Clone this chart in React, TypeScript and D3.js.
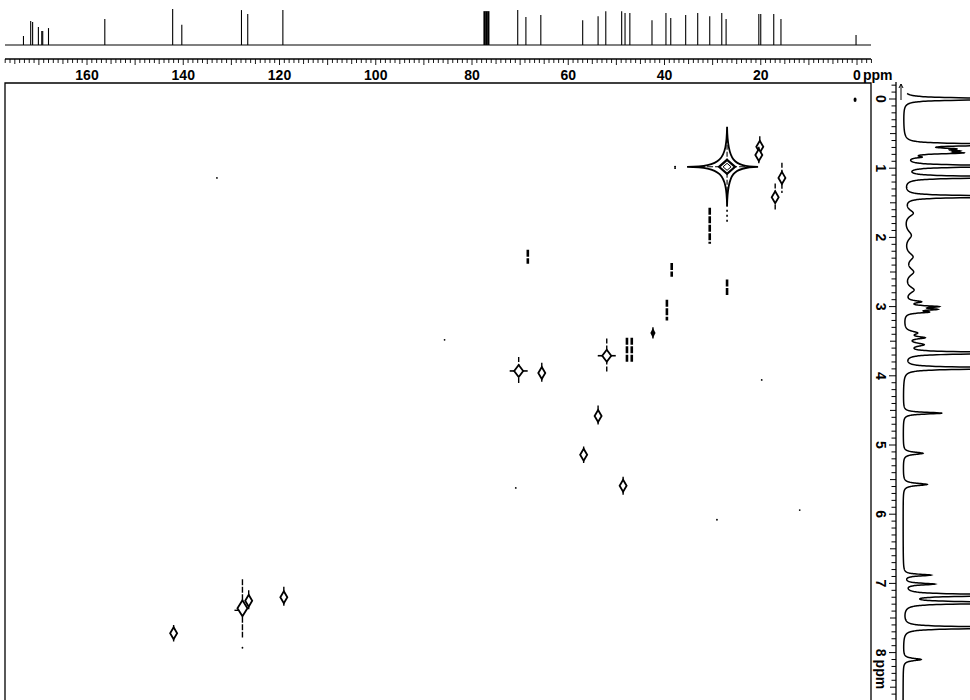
import React from 'react';
import * as d3 from 'd3';

// 13C projection: shift (ppm) and relative height
const carbonShift = [173.2, 171.7, 171.3, 170.1, 169.4, 169.2, 168.0, 156.3, 142.2, 140.3, 127.9, 126.6, 119.3, 77.4, 77.0, 76.6, 70.5, 68.8, 65.7, 57.0, 53.8, 52.2, 48.9, 48.2, 47.2, 42.6, 39.7, 38.7, 35.6, 33.1, 30.6, 28.1, 27.2, 20.4, 20.0, 17.3, 15.8, 0.2];
const carbonHeight = [25, 67, 64, 50, 39, 39, 47, 72, 100, 56, 97, 86, 97, 94, 94, 94, 97, 78, 83, 69, 80, 94, 94, 89, 89, 69, 89, 75, 83, 89, 80, 89, 72, 86, 86, 86, 72, 28];

// 1H projection: shift (ppm), height, half width (ppm)
const protonShift = [0.0, 0.66, 0.72, 0.75, 0.78, 0.84, 0.97, 1.13, 1.41, 1.65, 1.97, 2.28, 2.5, 2.76, 2.93, 3.0, 3.04, 3.08, 3.38, 3.45, 3.55, 3.67, 3.89, 4.54, 5.12, 5.57, 6.88, 7.01, 7.17, 7.28, 7.64, 8.1];
const protonHeight = [300, 300, 60, 60, 80, 20, 300, 300, 300, 15, 12, 14, 15, 16, 25, 50, 45, 35, 20, 30, 30, 300, 300, 65, 33, 40, 45, 50, 300, 300, 300, 30];
const protonWidth = [0.012, 0.012, 0.015, 0.015, 0.015, 0.015, 0.012, 0.012, 0.012, 0.06, 0.08, 0.07, 0.07, 0.06, 0.02, 0.015, 0.015, 0.015, 0.03, 0.02, 0.03, 0.012, 0.012, 0.015, 0.02, 0.02, 0.015, 0.015, 0.012, 0.012, 0.012, 0.02];

// HSQC cross peaks
const hsqcC = [0.4, 27.0, 20.2, 20.4, 15.6, 17.0, 30.6, 68.4, 38.5, 27.0, 39.5, 42.4, 47.8, 46.8, 52.0, 70.3, 65.5, 53.8, 56.8, 48.6, 142.0, 127.7, 126.4, 119.1];
const hsqcH = [0.01, 0.98, 0.69, 0.81, 1.14, 1.42, 1.83, 2.28, 2.47, 2.73, 3.05, 3.38, 3.63, 3.63, 3.71, 3.93, 3.96, 4.58, 5.14, 5.59, 7.72, 7.36, 7.25, 7.2];
const hsqcShape = ['dot', 'star', 'ring', 'ring', 'ring', 'ring', 'bar', 'bar', 'bar', 'bar', 'bar', 'spot', 'bar', 'bar', 'cross', 'cross', 'ring', 'ring', 'ring', 'ring', 'ring', 'big', 'ring', 'ring'];
const hsqcSpread = [0, 0.58, 0.15, 0.12, 0.22, 0.2, 0.26, 0.1, 0.1, 0.12, 0.15, 0.08, 0.18, 0.18, 0.25, 0.2, 0.15, 0.15, 0.12, 0.13, 0.12, 0.42, 0.15, 0.15];

// stray noise specks
const noiseC = [133, 85.7, 29.1, 19.8, 11.9, 70.9, 127.7, 37.8];
const noiseH = [1.14, 3.48, 6.08, 4.06, 5.94, 5.62, 7.93, 1.0];

const carbonTicks = [160, 140, 120, 100, 80, 60, 40, 20];
const protonTicks = [0, 1, 2, 3, 4, 5, 6, 7];

const font = '"Liberation Sans", Arial, sans-serif';

export default function App() {
  const x = d3.scaleLinear().domain([160, 0]).range([87, 857]);
  const y = d3.scaleLinear().domain([0, 8]).range([99, 652.6]);
  const pxPerH = y(1) - y(0);

  const left = 5, right = 871, top = 83, bottom = 705;

  // 1D carbon
  const cBase = 45;
  const cH = d3.scaleLinear().domain([0, 100]).range([0, 36]);

  // ruler ticks, 1 ppm apart
  const rulerTicks = d3.range(-3, 178, 1);

  // 1H trace
  const hBase = 903;
  const hW = d3.scaleLinear().domain([0, 100]).range([0, 60]);
  const hPts = d3.range(-0.08, 8.9, 0.002).map((p) => {
    let s = 0;
    protonShift.forEach((p0, i) => {
      const w = protonWidth[i];
      s += (protonHeight[i] * w * w) / ((p - p0) * (p - p0) + w * w);
    });
    return [Math.min(hBase + hW(s), 990), y(p)] as [number, number];
  });
  const hLine = d3.line()(hPts) || '';

  const hTicks = d3.range(-2, 89, 1).map((v) => v / 10);

  const ringPath = (hx: number, hy: number) =>
    `M0,${-hy}L${hx},0L0,${hy}L${-hx},0Z`;

  // thin four-armed contour of the strongest peak
  const star = (cx: number, cy: number) => {
    const L = 40, R = 31, T = 40, B = 39;
    return `M${cx - L},${cy}` +
      ` C${cx - 6},${cy - 0.6} ${cx - 0.6},${cy - 6} ${cx},${cy - T}` +
      ` C${cx + 0.6},${cy - 6} ${cx + 6},${cy - 0.6} ${cx + R},${cy}` +
      ` C${cx + 6},${cy + 0.6} ${cx + 0.6},${cy + 6} ${cx},${cy + B}` +
      ` C${cx - 0.6},${cy + 6} ${cx - 6},${cy + 0.6} ${cx - L},${cy} Z`;
  };

  return (
    <svg width={970} height={700} style={{ position: 'fixed', left: 0, top: 0, background: '#fff' }} fontFamily={font}>
      <rect width={970} height={700} fill="#fff" />

      {/* carbon projection */}
      <line x1={left} x2={right} y1={cBase} y2={cBase} stroke="#000" strokeWidth={1.2} />
      {carbonShift.map((s, i) => (
        <line key={'c' + i} x1={x(s)} x2={x(s)} y1={cBase} y2={cBase - cH(carbonHeight[i])} stroke="#000" strokeWidth={s > 76 && s < 78 ? 2.2 : 1.1} />
      ))}

      {/* ruler */}
      <line x1={left} x2={right} y1={59} y2={59} stroke="#000" strokeWidth={1.5} />
      {rulerTicks.map((t) => (
        <line key={'r' + t} x1={x(t)} x2={x(t)} y1={59} y2={t % 10 === 0 ? 65 : t % 5 === 0 ? 64 : 63} stroke="#000" strokeWidth={0.9} />
      ))}
      {carbonTicks.map((t) => (
        <text key={'cl' + t} x={x(t)} y={80} textAnchor="middle" fontSize={14} fontWeight="bold">{t}</text>
      ))}
      <text x={x(0)} y={80} textAnchor="middle" fontSize={14} fontWeight="bold">0</text>
      <text x={x(0) + 6} y={80} fontSize={14} fontWeight="bold">ppm</text>

      {/* frame */}
      <path d={`M${left},${bottom}V${top}H${right}V${bottom}`} fill="none" stroke="#000" strokeWidth={1.3} />

      {/* proton axis */}
      <line x1={896} x2={896} y1={82} y2={700} stroke="#000" strokeWidth={1.3} />
      {hTicks.map((t, i) => (
        <line key={'ht' + i} x1={Math.abs(t * 10) % 10 === 0 ? 889 : Math.abs(t * 10) % 5 === 0 ? 890 : 891.5} x2={896} y1={y(t)} y2={y(t)} stroke="#000" strokeWidth={1} />
      ))}
      {protonTicks.map((t) => (
        <text key={'hl' + t} transform={`translate(881,${y(t)}) rotate(90)`} textAnchor="middle" dominantBaseline="central" fontSize={14} fontWeight="bold">{t}</text>
      ))}
      <text transform={`translate(881,${y(8)}) rotate(90)`} textAnchor="middle" dominantBaseline="central" fontSize={14} fontWeight="bold">8</text>
      <text transform={`translate(881,${y(8) + 7}) rotate(90)`} dominantBaseline="central" fontSize={14} fontWeight="bold">ppm</text>
      <path d="M901,84V100M899,88L901,84L903,88" fill="none" stroke="#000" strokeWidth={1} />

      {/* proton projection */}
      <path d={hLine} fill="none" stroke="#000" strokeWidth={1.5} />

      {/* noise */}
      {noiseC.map((c, i) => (
        <circle key={'n' + i} cx={x(c)} cy={y(noiseH[i])} r={0.9} fill="#000" />
      ))}

      {/* cross peaks */}
      {hsqcC.map((c, i) => {
        const cx = x(c), cy = y(hsqcH[i]);
        const shape = hsqcShape[i];
        const sp = hsqcSpread[i] * pxPerH;
        if (shape === 'dot') {
          return <ellipse key={'p' + i} cx={cx} cy={cy} rx={1.5} ry={2.2} fill="#000" />;
        }
        if (shape === 'star') {
          return (
            <g key={'p' + i}>
              <line x1={cx} x2={cx} y1={cy + 38} y2={cy + 56} stroke="#000" strokeWidth={1.6} strokeDasharray="2,3" />
              <circle cx={cx - 52} cy={cy} r={1} fill="#000" />
              <path d={star(cx, cy)} fill="#fff" stroke="#000" strokeWidth={1.8} />
              <line x1={cx - 36} x2={cx + 27} y1={cy} y2={cy} stroke="#000" strokeWidth={1.1} strokeDasharray="6,2" />
              <line x1={cx} x2={cx} y1={cy - 36} y2={cy + 35} stroke="#000" strokeWidth={1.1} strokeDasharray="5,2" />
              <path transform={`translate(${cx},${cy})`} d={ringPath(8, 7)} fill="#fff" stroke="#000" strokeWidth={2.2} />
              <path transform={`translate(${cx},${cy})`} d={ringPath(4, 3.5)} fill="none" stroke="#000" strokeWidth={1} />
            </g>
          );
        }
        if (shape === 'bar') {
          return (
            <line key={'p' + i} x1={cx} x2={cx} y1={cy - sp} y2={cy + sp} stroke="#000" strokeWidth={2.6} strokeDasharray="7,1.5" />
          );
        }
        if (shape === 'spot') {
          return (
            <g key={'p' + i}>
              <line x1={cx} x2={cx} y1={cy - sp} y2={cy + sp} stroke="#000" strokeWidth={1.4} />
              <path transform={`translate(${cx},${cy})`} d={ringPath(2.6, 5)} fill="#000" />
            </g>
          );
        }
        const big = shape === 'big';
        const hx = big ? 5 : shape === 'cross' ? 4.5 : 3.5;
        const hy = big ? 8 : 6;
        return (
          <g key={'p' + i}>
            <line x1={cx} x2={cx} y1={cy - sp} y2={cy + sp} stroke="#000" strokeWidth={1.4} strokeDasharray={big ? '6,1.5' : '5,2'} />
            {shape === 'cross' && (
              <line x1={cx - 9} x2={cx + 9} y1={cy} y2={cy} stroke="#000" strokeWidth={1.6} />
            )}
            {big && (
              <line x1={cx - 8} x2={cx} y1={cy + 2} y2={cy + 2} stroke="#000" strokeWidth={1.4} />
            )}
            <path transform={`translate(${cx},${cy})`} d={ringPath(hx, hy)} fill="#fff" stroke="#000" strokeWidth={1.8} />
          </g>
        );
      })}
    </svg>
  );
}
